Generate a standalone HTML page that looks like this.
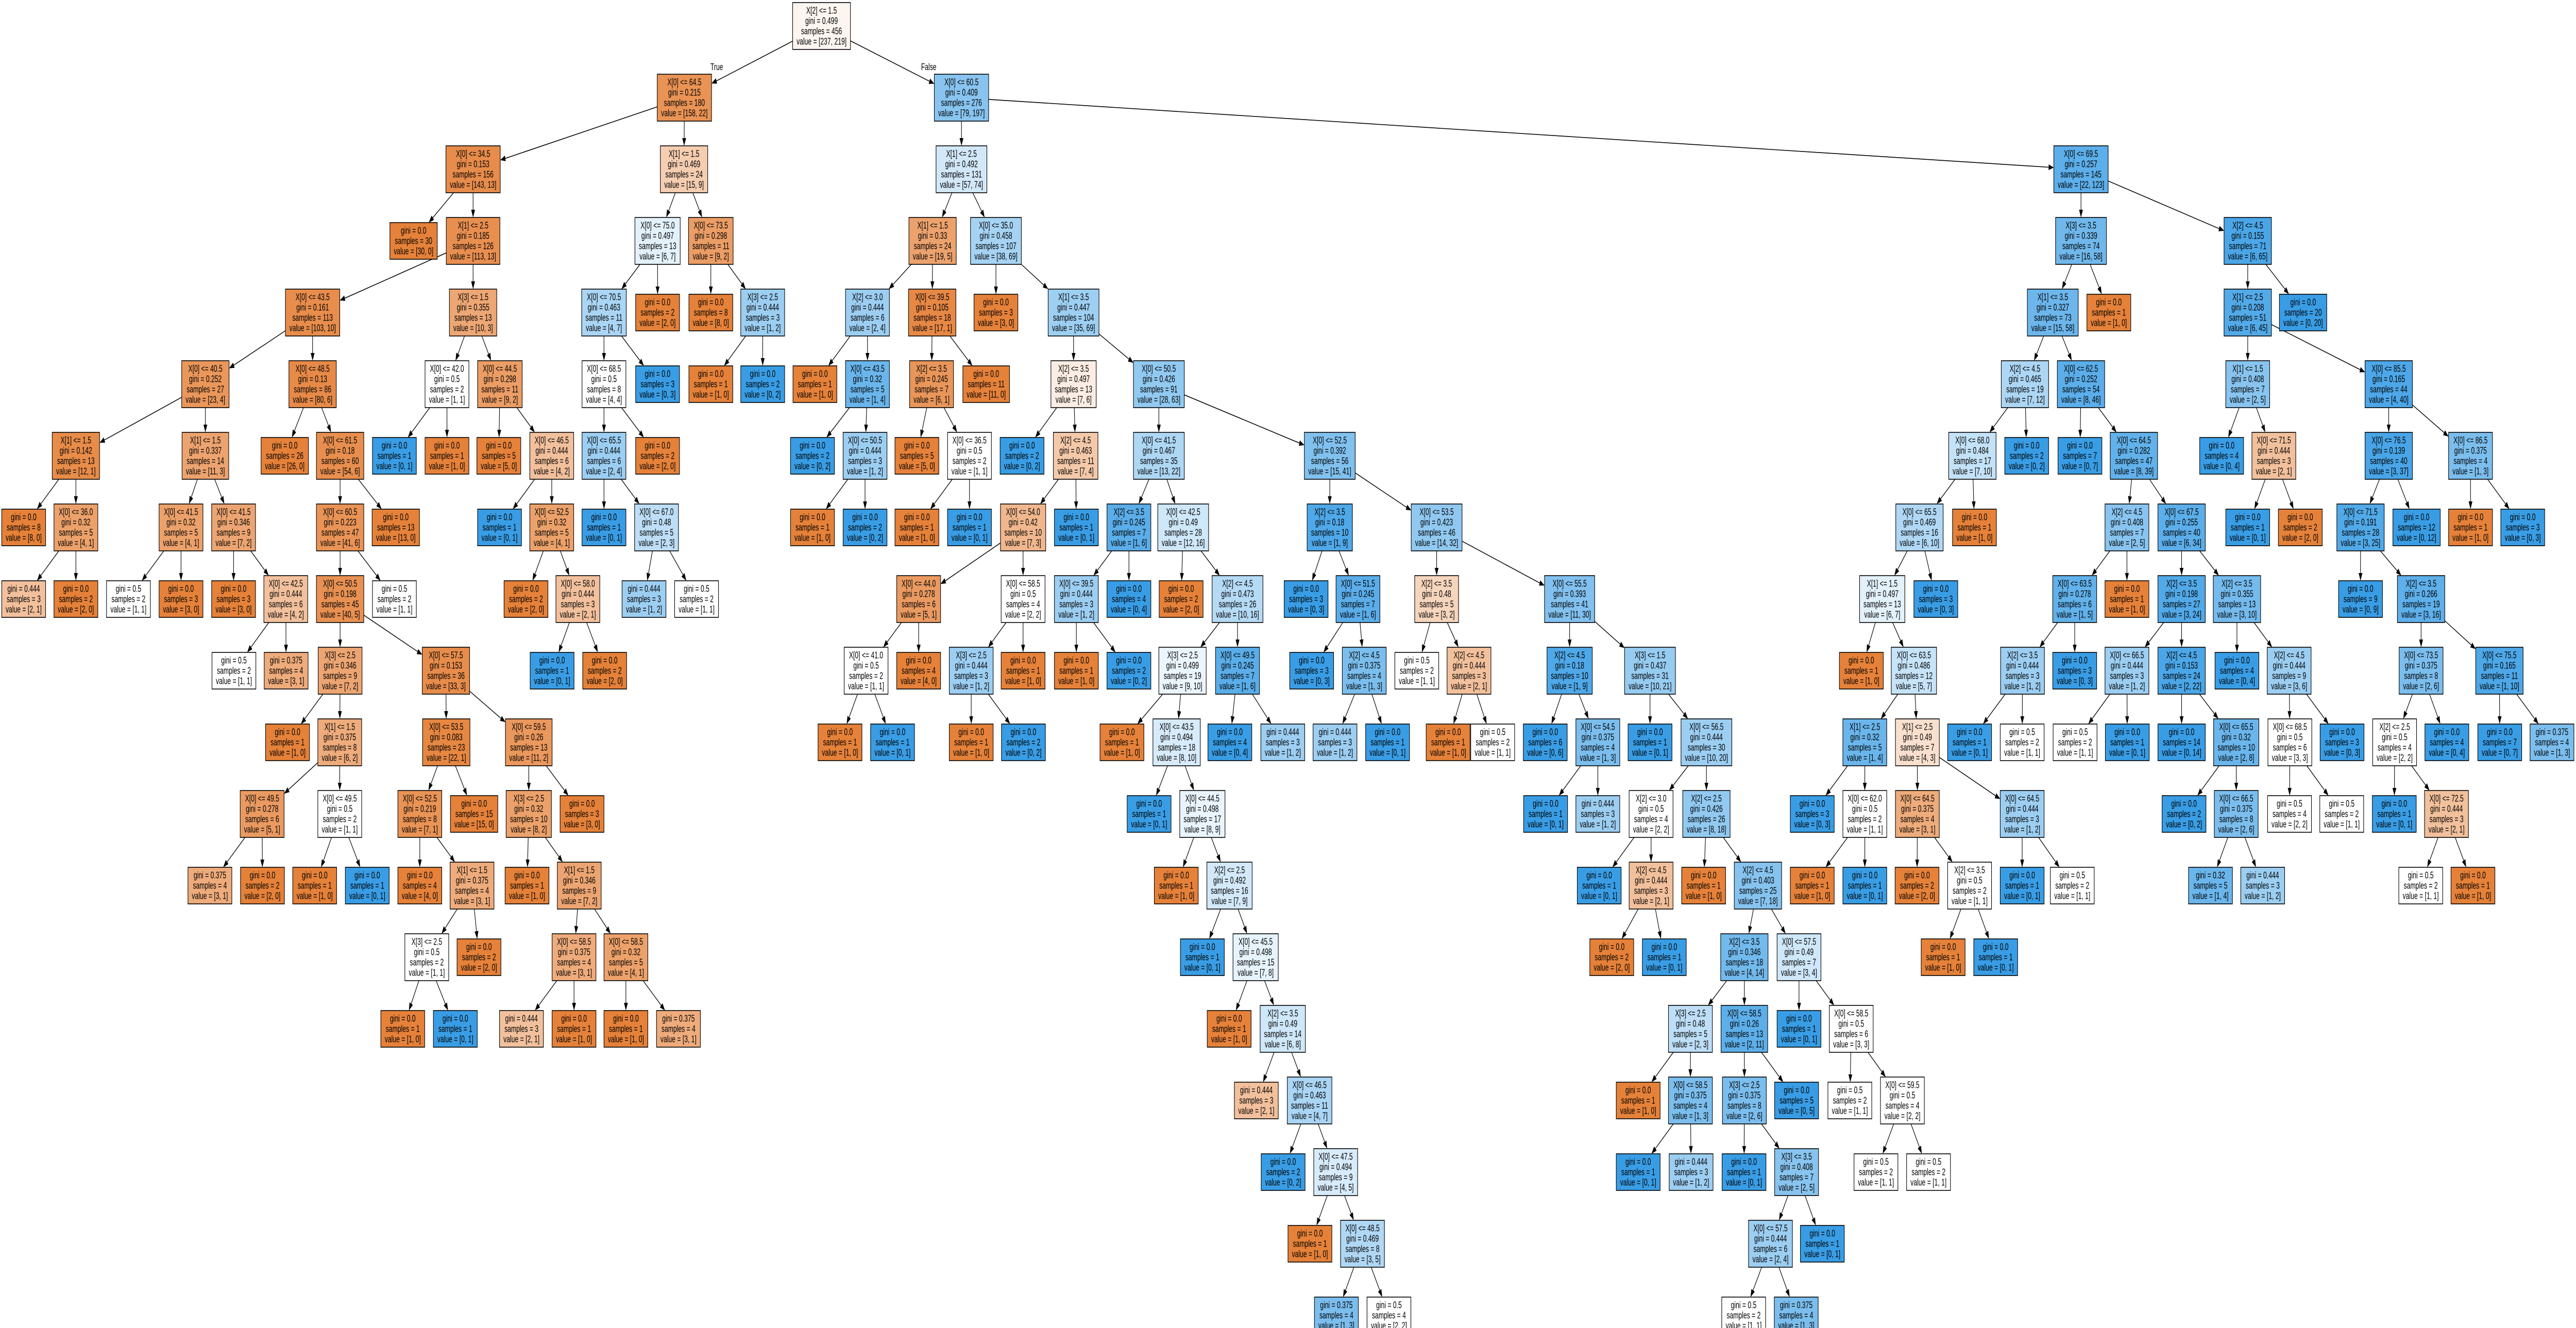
<!DOCTYPE html>
<html>
<head>
<meta charset="utf-8">
<title>Decision tree</title>
<style>
  html, body { margin: 0; padding: 0; background: #ffffff; overflow: hidden; width: 100%; height: 100%; }
  svg { display: block; width: 100vw; height: 100vh; }
  text { font-family: "Liberation Sans", Helvetica, Arial, sans-serif; font-size: 18px; fill: #000; }
</style>
</head>
<body>
<svg id="tree" xmlns="http://www.w3.org/2000/svg" viewBox="0 0 7400 2577" preserveAspectRatio="none">
  <rect x="0" y="0" width="7400" height="2577" fill="#ffffff"></rect>
  <g id="edges"></g>
  <g id="nodes"></g>
  <text x="2059" y="136" text-anchor="middle">True</text>
  <text x="2668" y="136" text-anchor="middle">False</text>
</svg>
<script>
// Tree rows in preorder: depth, x-center, feature (- = leaf), threshold, class0 count, class1 count
const treeRows = `
0 2360 2 1.5 237 219
1 1966 0 64.5 158 22
2 1359 0 34.5 143 13
3 1188 - - 30 0
3 1359 1 2.5 113 13
4 898 0 43.5 103 10
5 590 0 40.5 23 4
6 218 1 1.5 12 1
7 68 - - 8 0
7 218 0 36.0 4 1
8 68 - - 2 1
8 218 - - 2 0
6 590 1 1.5 11 3
7 520 0 41.5 4 1
8 369 - - 1 1
8 520 - - 3 0
7 671 0 41.5 7 2
8 671 - - 3 0
8 821 0 42.5 4 2
9 672 - - 1 1
9 822 - - 3 1
5 898 0 48.5 80 6
6 818 - - 26 0
6 977 0 61.5 54 6
7 977 0 60.5 41 6
8 977 0 50.5 40 5
9 977 3 2.5 7 2
10 826 - - 1 0
10 976 1 1.5 6 2
11 753 0 49.5 5 1
12 603 - - 3 1
12 754 - - 2 0
11 976 0 49.5 1 1
12 904 - - 1 0
12 1055 - - 0 1
9 1281 0 57.5 33 3
10 1282 0 53.5 22 1
11 1206 0 52.5 7 1
12 1206 - - 4 0
12 1356 1 1.5 3 1
13 1226 3 2.5 1 1
14 1157 - - 1 0
14 1308 - - 0 1
13 1376 - - 2 0
11 1362 - - 15 0
10 1519 0 59.5 11 2
11 1519 3 2.5 8 2
12 1514 - - 1 0
12 1664 1 1.5 7 2
13 1649 0 58.5 3 1
14 1498 - - 2 1
14 1649 - - 1 0
13 1798 0 58.5 4 1
14 1798 - - 1 0
14 1949 - - 3 1
11 1672 - - 3 0
8 1133 - - 1 1
7 1137 - - 13 0
4 1359 3 1.5 10 3
5 1284 0 42.0 1 1
6 1133 - - 0 1
6 1284 - - 1 0
5 1436 0 44.5 9 2
6 1433 - - 5 0
6 1585 0 46.5 4 2
7 1435 - - 0 1
7 1585 0 52.5 4 1
8 1511 - - 2 0
8 1660 0 58.0 2 1
9 1586 - - 0 1
9 1737 - - 2 0
2 1965 1 1.5 15 9
3 1889 0 75.0 6 7
4 1735 0 70.5 4 7
5 1735 0 68.5 4 4
6 1735 0 65.5 2 4
7 1735 - - 0 1
7 1886 0 67.0 2 3
8 1850 - - 1 2
8 2001 - - 1 1
6 1889 - - 2 0
5 1889 - - 0 3
4 1889 - - 2 0
3 2042 0 73.5 9 2
4 2042 - - 8 0
4 2191 3 2.5 1 2
5 2042 - - 1 0
5 2191 - - 0 2
1 2762 0 60.5 79 197
2 2762 1 2.5 57 74
3 2679 1 1.5 19 5
4 2492 2 3.0 2 4
5 2341 - - 1 0
5 2492 0 43.5 1 4
6 2334 - - 0 2
6 2485 0 50.5 1 2
7 2334 - - 1 0
7 2485 - - 0 2
4 2678 0 39.5 17 1
5 2676 2 3.5 6 1
6 2634 - - 5 0
6 2785 0 36.5 1 1
7 2634 - - 1 0
7 2785 - - 0 1
5 2833 - - 11 0
3 2861 0 35.0 38 69
4 2861 - - 3 0
4 3084 1 3.5 35 69
5 3084 2 3.5 7 6
6 2936 - - 0 2
6 3090 2 4.5 7 4
7 2939 0 54.0 7 3
8 2639 0 44.0 5 1
9 2488 0 41.0 1 1
10 2413 - - 1 0
10 2564 - - 0 1
9 2639 - - 4 0
8 2939 0 58.5 2 2
9 2790 3 2.5 1 2
10 2790 - - 1 0
10 2940 - - 0 2
9 2939 - - 1 0
7 3092 - - 0 1
5 3329 0 50.5 28 63
6 3329 0 41.5 13 22
7 3243 2 3.5 1 6
8 3092 0 39.5 1 2
9 3092 - - 1 0
9 3243 - - 0 2
8 3243 - - 0 4
7 3399 0 42.5 12 16
8 3393 - - 2 0
8 3555 2 4.5 10 16
9 3397 3 2.5 9 10
10 3223 - - 1 0
10 3380 0 43.5 8 10
11 3301 - - 0 1
11 3454 0 44.5 8 9
12 3379 - - 1 0
12 3532 2 2.5 7 9
13 3454 - - 0 1
13 3607 0 45.5 7 8
14 3531 - - 1 0
14 3685 2 3.5 6 8
15 3609 - - 2 1
15 3762 0 46.5 4 7
16 3686 - - 0 2
16 3837 0 47.5 4 5
17 3763 - - 1 0
17 3914 0 48.5 3 5
18 3839 - - 1 3
18 3990 - - 2 2
9 3555 0 49.5 1 6
10 3533 - - 0 4
10 3685 - - 1 2
6 3820 0 52.5 15 41
7 3820 2 3.5 1 9
8 3752 - - 0 3
8 3901 0 51.5 1 6
9 3768 - - 0 3
9 3919 2 4.5 1 3
10 3835 - - 1 2
10 3986 - - 0 1
7 4127 0 53.5 14 32
8 4127 2 3.5 3 2
9 4070 - - 1 1
9 4220 2 4.5 2 1
10 4160 - - 1 0
10 4288 - - 1 1
8 4509 0 55.5 11 30
9 4509 2 4.5 1 9
10 4439 - - 0 6
10 4590 0 54.5 1 3
11 4440 - - 0 1
11 4590 - - 1 2
9 4740 3 1.5 10 21
10 4740 - - 0 1
10 4902 0 56.5 10 20
11 4743 2 3.0 2 2
12 4594 - - 0 1
12 4743 2 4.5 2 1
13 4630 - - 2 0
13 4781 - - 0 1
11 4902 2 2.5 8 18
12 4894 - - 1 0
12 5050 2 4.5 7 18
13 5011 2 3.5 4 14
14 4856 3 2.5 2 3
15 4706 - - 1 0
15 4856 0 58.5 1 3
16 4706 - - 0 1
16 4858 - - 1 2
14 5011 0 58.5 2 11
15 5011 3 2.5 2 6
16 5010 - - 0 1
16 5161 3 3.5 2 5
17 5086 0 57.5 2 4
18 5009 - - 1 1
18 5160 - - 1 3
17 5235 - - 0 1
15 5161 - - 0 5
13 5168 0 57.5 3 4
14 5168 - - 0 1
14 5318 0 58.5 3 3
15 5314 - - 1 1
15 5465 0 59.5 2 2
16 5389 - - 1 1
16 5540 - - 1 1
2 5978 0 69.5 22 123
3 5978 3 3.5 16 58
4 5897 1 3.5 15 58
5 5817 2 4.5 7 12
6 5666 0 68.0 7 10
7 5514 0 65.5 6 10
8 5407 1 1.5 6 7
9 5347 - - 1 0
9 5498 0 63.5 5 7
10 5357 1 2.5 1 4
11 5206 - - 0 3
11 5357 0 62.0 1 1
12 5206 - - 1 0
12 5357 - - 0 1
10 5508 1 2.5 4 3
11 5508 0 64.5 3 1
12 5507 - - 2 0
12 5658 2 3.5 1 1
13 5582 - - 1 0
13 5733 - - 0 1
11 5809 0 64.5 1 2
12 5809 - - 0 1
12 5953 - - 1 1
8 5561 - - 0 3
7 5672 - - 1 0
6 5822 - - 0 2
5 5978 0 62.5 8 46
6 5975 - - 0 7
6 6130 0 64.5 8 39
7 6110 2 4.5 2 5
8 5960 0 63.5 1 5
9 5810 2 3.5 1 2
10 5658 - - 0 1
10 5809 - - 1 1
9 5960 - - 0 3
8 6110 - - 1 0
7 6267 0 67.5 6 34
8 6267 2 3.5 3 24
9 6110 0 66.5 1 2
10 5961 - - 1 1
10 6111 - - 0 1
9 6267 2 4.5 2 22
10 6267 - - 0 14
10 6424 0 65.5 2 8
11 6274 - - 0 2
11 6424 0 66.5 2 6
12 6350 - - 1 4
12 6500 - - 1 2
8 6426 2 3.5 3 10
9 6426 - - 0 4
9 6576 2 4.5 3 6
10 6578 0 68.5 3 3
11 6577 - - 2 2
11 6727 - - 1 1
10 6728 - - 0 3
4 6058 - - 1 0
3 6457 2 4.5 6 65
4 6457 1 2.5 6 45
5 6457 1 1.5 2 5
6 6382 - - 0 4
6 6532 0 71.5 2 1
7 6457 - - 0 1
7 6608 - - 2 0
5 6862 0 85.5 4 40
6 6862 0 76.5 3 37
7 6781 0 71.5 3 25
8 6781 - - 0 9
8 6955 2 3.5 3 16
9 6955 0 73.5 2 6
10 6879 2 2.5 2 2
11 6878 - - 0 1
11 7028 0 72.5 2 1
12 6954 - - 1 1
12 7104 - - 1 0
10 7029 - - 0 4
9 7180 0 75.5 1 10
10 7181 - - 0 7
10 7331 - - 1 3
7 6942 - - 0 12
6 7097 0 86.5 1 3
7 7097 - - 1 0
7 7247 - - 0 3
4 6616 - - 0 20
`;

// Parsed data arrays (top level)
const nodeDepth = [];
const nodeX = [];
const nodeFeature = [];
const nodeThreshold = [];
const classA = [];
const classB = [];

treeRows.trim().split("\n").forEach(function (line) {
  const p = line.trim().split(/\s+/);
  nodeDepth.push(+p[0]);
  nodeX.push(+p[1]);
  nodeFeature.push(p[2]);
  nodeThreshold.push(p[3]);
  classA.push(+p[4]);
  classB.push(+p[5]);
});

const SVGNS = "http://www.w3.org/2000/svg";
const LEVEL_Y0 = 50.5, LEVEL_DY = 139;
const LINE_H = 20;
const COLOR_A = [229, 129, 57], COLOR_B = [57, 157, 229];

function levelY(d) { return LEVEL_Y0 + LEVEL_DY * d; }

function fmtGini(g) {
  let s = (Math.round(g * 1000) / 1000).toString();
  if (s.indexOf(".") < 0) s += ".0";
  return s;
}

function nodeColor(a, b) {
  const n = a + b;
  const pa = a / n, pb = b / n;
  const hi = Math.max(pa, pb), lo = Math.min(pa, pb);
  const alpha = hi > 0 ? (hi - lo) / (1 - lo) : 0;
  const base = pa >= pb ? COLOR_A : COLOR_B;
  const c = base.map(function (v) { return Math.round(alpha * v + (1 - alpha) * 255); });
  return "rgb(" + c[0] + "," + c[1] + "," + c[2] + ")";
}

// Parent links from preorder depths
const nodeParent = [];
(function () {
  const stack = [];
  for (let i = 0; i < nodeDepth.length; i++) {
    const d = nodeDepth[i];
    stack[d] = i;
    nodeParent.push(d > 0 ? stack[d - 1] : -1);
  }
})();

const nodesG = document.getElementById("nodes");
const edgesG = document.getElementById("edges");
const boxes = [];

function approxWidth(s) {
  // Helvetica-like metrics at 18px
  let w = 0;
  for (const ch of s) {
    if (" [],.".indexOf(ch) >= 0) w += 5;
    else if ("il".indexOf(ch) >= 0) w += 4;
    else if (ch === "=" || ch === "<") w += 10.5;
    else if (ch === "X") w += 12;
    else w += 10;
  }
  return w;
}

for (let i = 0; i < nodeDepth.length; i++) {
  const a = classA[i], b = classB[i];
  const n = a + b;
  const gini = 1 - (a / n) * (a / n) - (b / n) * (b / n);
  const lines = [];
  const isLeaf = nodeFeature[i] === "-";
  if (!isLeaf) lines.push("X[" + nodeFeature[i] + "] <= " + nodeThreshold[i]);
  lines.push("gini = " + fmtGini(gini));
  lines.push("samples = " + n);
  lines.push("value = [" + a + ", " + b + "]");

  const cx = nodeX[i], cy = levelY(nodeDepth[i]);
  const g = document.createElementNS(SVGNS, "g");
  
  
  nodesG.appendChild(g);

  const rect = document.createElementNS(SVGNS, "rect");
  
  
  g.appendChild(rect);

  let maxW = 0;
  for (let k = 0; k < lines.length; k++) {
    const t = document.createElementNS(SVGNS, "text");
    
    
    t.setAttribute("x", cx);
    t.setAttribute("y", (cy + (k - (lines.length - 1) / 2) * LINE_H + 6).toFixed(1));
    t.setAttribute("text-anchor", "middle");
    t.textContent = lines[k];
    g.appendChild(t);
    let w = 0;
    try { w = t.getComputedTextLength(); } catch (e) { w = 0; }
    if (!w || w > 260) w = approxWidth(lines[k]);
    if (w > maxW) maxW = w;
  }
  const bw = Math.round(maxW + 22);
  const bh = isLeaf ? 71 : 91;
  rect.setAttribute("x", (cx - bw / 2).toFixed(1));
  rect.setAttribute("y", (cy - bh / 2).toFixed(1));
  rect.setAttribute("width", bw);
  rect.setAttribute("height", bh);
  rect.setAttribute("fill", nodeColor(a, b));
  rect.setAttribute("stroke", "#000");
  rect.setAttribute("stroke-width", "1.6");
  boxes.push({ cx: cx, cy: cy, hw: bw / 2, hh: bh / 2 });
}

function clipT(hw, hh, dx, dy) {
  const tx = dx !== 0 ? hw / Math.abs(dx) : Infinity;
  const ty = dy !== 0 ? hh / Math.abs(dy) : Infinity;
  return Math.min(tx, ty);
}

for (let i = 0; i < nodeDepth.length; i++) {
  const p = nodeParent[i];
  if (p < 0) continue;
  const A = boxes[p], B = boxes[i];
  const dx = B.cx - A.cx, dy = B.cy - A.cy;
  const ts = clipT(A.hw, A.hh, dx, dy);
  const te = clipT(B.hw, B.hh, dx, dy);
  const x1 = A.cx + ts * dx, y1 = A.cy + ts * dy;
  const x2 = B.cx - te * dx, y2 = B.cy - te * dy;
  const len = Math.hypot(x2 - x1, y2 - y1);
  const ux = (x2 - x1) / len, uy = (y2 - y1) / len;
  const AL = 15, AW = 5.5;
  const bx = x2 - ux * AL, by = y2 - uy * AL;

  const line = document.createElementNS(SVGNS, "line");
  
  
  line.setAttribute("x1", x1.toFixed(1));
  line.setAttribute("y1", y1.toFixed(1));
  line.setAttribute("x2", bx.toFixed(1));
  line.setAttribute("y2", by.toFixed(1));
  line.setAttribute("stroke", "#000");
  line.setAttribute("stroke-width", "1.6");
  edgesG.appendChild(line);

  const head = document.createElementNS(SVGNS, "polygon");
  
  
  const pts = [
    [x2, y2],
    [bx - uy * AW, by + ux * AW],
    [bx + uy * AW, by - ux * AW]
  ].map(function (q) { return q[0].toFixed(1) + "," + q[1].toFixed(1); }).join(" ");
  head.setAttribute("points", pts);
  head.setAttribute("fill", "#000");
  edgesG.appendChild(head);
}
</script>
</body>
</html>
